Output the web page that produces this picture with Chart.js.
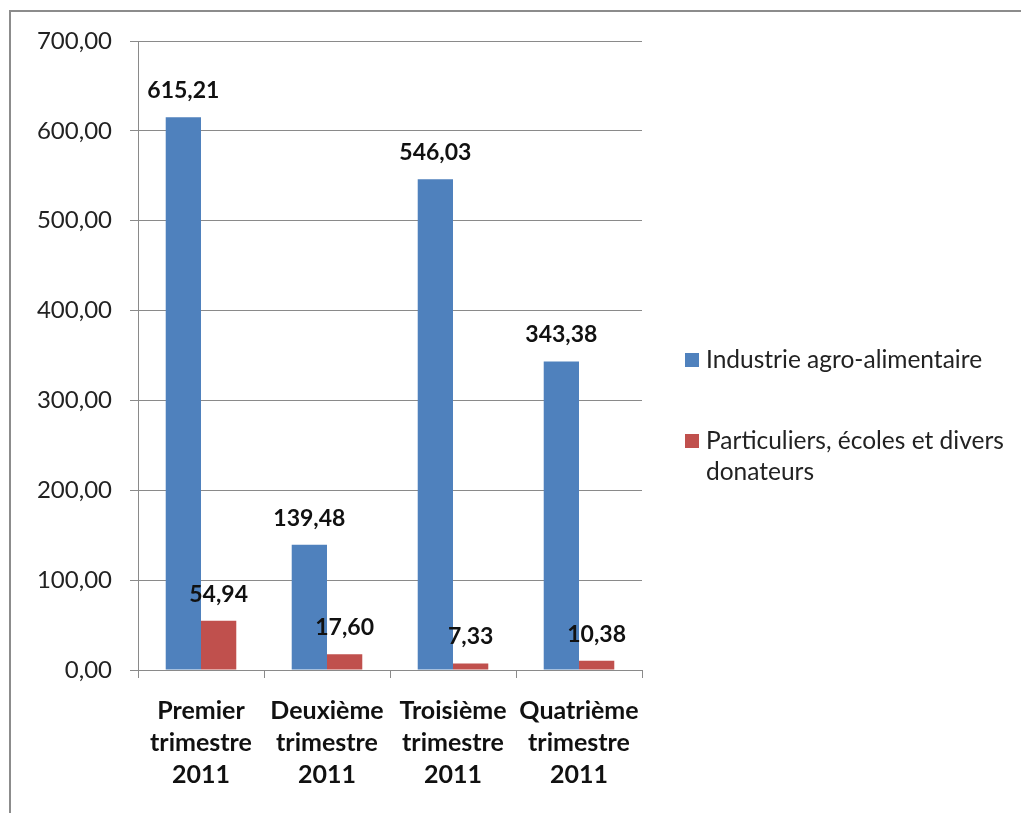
<!DOCTYPE html>
<html lang="fr">
<head>
<meta charset="utf-8">
<script src="https://cdn.jsdelivr.net/npm/chart.js@4"></script>
<style>
  html, body { margin: 0; padding: 0; background: #fff; overflow: hidden; }
  #frame {
    position: absolute; left: 9px; top: 10px; width: 1100px; height: 900px;
    border: 2px solid #8c8c8c; box-sizing: border-box;
  }
  #wrap { position: absolute; left: 0; top: 0; width: 1021px; height: 813px; }
</style>
</head>
<body>
<div id="frame"></div>
<div id="wrap"><canvas id="chart" width="1021" height="813"></canvas></div>
<script>
/* ---------- data ---------- */
const categories = [
  ["Premier", "trimestre", "2011"],
  ["Deuxième", "trimestre", "2011"],
  ["Troisième", "trimestre", "2011"],
  ["Quatrième", "trimestre", "2011"]
];
const industrieValues = [615.21, 139.48, 546.03, 343.38];
const particuliersValues = [54.94, 17.60, 7.33, 10.38];
const seriesLabels = [
  ["Industrie agro-alimentaire"],
  ["Particuliers, écoles et divers", "donateurs"]
];
const yTicks = [0, 100, 200, 300, 400, 500, 600, 700];

const FONT = "Lato, 'Open Sans', sans-serif";
const BLUE = "#4F81BD";
const RED = "#C0504D";
const GRID = "#8a8a8a";

function frNumber(v) {
  return Number(v).toFixed(2).replace(".", ",");
}

/* ---------- plugins ---------- */
const valueLabels = {
  id: "valueLabels",
  afterDatasetsDraw(chart) {
    const ctx = chart.ctx;
    ctx.save();
    ctx.font = `bold 23px ${FONT}`;
    ctx.fillStyle = "#111";
    ctx.textAlign = "center";
    ctx.textBaseline = "alphabetic";
    chart.data.datasets.forEach((ds, i) => {
      chart.getDatasetMeta(i).data.forEach((bar, j) => {
        ctx.fillText(frNumber(ds.data[j]), bar.x, bar.y - 19);
      });
    });
    ctx.restore();
  }
};

const sideLegend = {
  id: "sideLegend",
  afterDraw(chart) {
    const ctx = chart.ctx;
    const x = 685;
    const rows = [360, 441];
    ctx.save();
    ctx.font = `24.5px ${FONT}`;
    ctx.textBaseline = "middle";
    chart.data.datasets.forEach((ds, i) => {
      const y = rows[i];
      ctx.fillStyle = ds.backgroundColor;
      ctx.fillRect(x, y - 7, 14, 14);
      ctx.fillStyle = "#222";
      ds.label.forEach((line, k) => {
        ctx.fillText(line, x + 21, y + k * 31);
      });
    });
    ctx.restore();
  }
};

/* ---------- chart ---------- */
new Chart(document.getElementById("chart"), {
  type: "bar",
  data: {
    labels: categories,
    datasets: [
      { label: seriesLabels[0], data: industrieValues, backgroundColor: BLUE },
      { label: seriesLabels[1], data: particuliersValues, backgroundColor: RED }
    ]
  },
  options: {
    responsive: false,
    animation: false,
    layout: { padding: { left: 0, top: 41, right: 379, bottom: 0 } },
    datasets: {
      bar: { categoryPercentage: 0.56, barPercentage: 1.0 }
    },
    plugins: {
      legend: { display: false },
      tooltip: { enabled: false }
    },
    scales: {
      x: {
        afterFit(scale) { scale.height = 143; },
        grid: {
          offset: true,
          drawOnChartArea: false,
          drawTicks: true,
          tickLength: 8,
          color: GRID
        },
        border: { color: GRID, width: 1 },
        ticks: {
          color: "#111",
          padding: 17,
          maxRotation: 0,
          autoSkip: false,
          font: { family: FONT, size: 25, weight: "bold", lineHeight: 1.28 }
        }
      },
      y: {
        min: 0,
        max: 700,
        afterFit(scale) { scale.width = 138; },
        afterBuildTicks(scale) { scale.ticks = yTicks.map((v) => ({ value: v })); },
        grid: { color: GRID, tickLength: 8 },
        border: { color: GRID, width: 1 },
        ticks: {
          color: "#222",
          padding: 18,
          font: { family: FONT, size: 24 },
          callback: (v) => frNumber(v)
        }
      }
    }
  },
  plugins: [valueLabels, sideLegend]
});
</script>
</body>
</html>
